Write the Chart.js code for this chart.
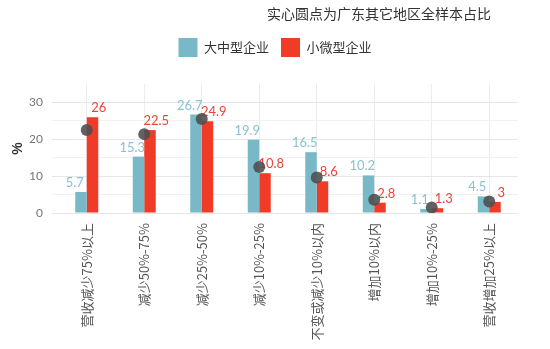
<!DOCTYPE html>
<html>
<head>
<meta charset="utf-8">
<script src="https://cdn.jsdelivr.net/npm/chart.js@4/dist/chart.umd.min.js"></script>
<style>
  body { margin: 0; background: #fff; }
  #wrap { position: relative; width: 550px; height: 349px; }
  #note {
    position: absolute; left: 267px; top: 3px;
    font: 14px "Noto Sans CJK SC", sans-serif; color: #333;
    white-space: nowrap;
  }
</style>
</head>
<body>
<div id="wrap">
  <canvas id="chart" width="550" height="349"></canvas>
  <div id="note">实心圆点为广东其它地区全样本占比</div>
</div>
<script>
// Data
const categories = ["营收减少75%以上", "减少50%-75%", "减少25%-50%", "减少10%-25%", "不变或减少10%以内", "增加10%以内", "增加10%-25%", "营收增加25%以上"];
const largeMid = [5.7, 15.3, 26.7, 19.9, 16.5, 10.2, 1.1, 4.5];
const smallMicro = [26, 22.5, 24.9, 10.8, 8.6, 2.8, 1.3, 3];
const guangdongOther = [22.5, 21.4, 25.5, 12.5, 9.6, 3.6, 1.5, 3.1];
const yTicks = [0, 10, 20, 30];

const blue = "#79b8c6";
const red = "#f03b27";

// Value labels above each bar, offset left/right of the category center
const barLabels = {
  id: "barLabels",
  afterDatasetDraw(chart, args) {
    if (args.index !== 0) return;
    const ctx = chart.ctx;
    ctx.save();
    ctx.font = '13px Lato, "Open Sans", sans-serif';
    ctx.textAlign = "center";
    ctx.textBaseline = "alphabetic";
    [[0, -12, "#8ac2cf"], [1, 12, "#e8463a"]].forEach(([di, dx, color]) => {
      const meta = chart.getDatasetMeta(di);
      const xScale = chart.scales.x;
      ctx.fillStyle = color;
      meta.data.forEach((bar, i) => {
        const cx = xScale.getPixelForValue(i);
        ctx.fillText(String(chart.data.datasets[di].data[i]), cx + dx, bar.y - 5);
      });
    });
    ctx.restore();
  }
};

// extra room under the legend, and centre it on the whole canvas
const legendGap = {
  id: "legendGap",
  beforeInit(chart) {
    const fit = chart.legend.fit;
    chart.legend.fit = function () {
      fit.bind(chart.legend)();
      this.height += 17;
    };
  },
  afterLayout(chart) {
    chart.legend.left += 16;
    chart.legend.right += 16;
  }
};

new Chart(document.getElementById("chart"), {
  type: "bar",
  data: {
    labels: categories,
    datasets: [
      { label: "大中型企业", data: largeMid, backgroundColor: blue, categoryPercentage: 0.4, barPercentage: 1.0 },
      { label: "小微型企业", data: smallMicro, backgroundColor: red, categoryPercentage: 0.4, barPercentage: 1.0 },
      { type: "line", label: "广东其它地区", data: guangdongOther, showLine: false, order: -1,
        pointRadius: 6, pointHoverRadius: 6, pointBackgroundColor: "rgba(80,80,80,0.9)", pointBorderWidth: 0 }
    ]
  },
  options: {
    responsive: false,
    animation: false,
    layout: { padding: { top: 26, left: 0, right: 32, bottom: 0 } },
    plugins: {
      tooltip: { enabled: false },
      legend: {
        position: "top",
        labels: {
          boxWidth: 19, boxHeight: 19, padding: 12, color: "#333",
          font: { family: '"Noto Sans CJK SC", sans-serif', size: 13 },
          filter: item => item.datasetIndex < 2
        }
      }
    },
    scales: {
      x: {
        afterFit: scale => { scale.height = 136; },
        grid: { offset: false, color: "#ececec", drawTicks: false },
        border: { display: false },
        ticks: {
          maxRotation: 90, minRotation: 90, padding: 10, color: "#555",
          font: { family: '"Noto Sans CJK SC", sans-serif', size: 13 }
        }
      },
      y: {
        min: 0, max: 35,
        afterFit: scale => { scale.width = 58; },
        border: { display: false },
        grid: {
          color: ctx => ctx.tick && ctx.tick.value === 35 ? "rgba(0,0,0,0)" : (ctx.tick && ctx.tick.value % 10 === 0 ? "#e6e6e6" : "#f1f1f1"),
          tickLength: 6
        },
        ticks: {
          stepSize: 5, padding: 9, color: "#777",
          font: { family: 'Lato, "Open Sans", sans-serif', size: 12 },
          callback: v => yTicks.includes(v) ? String(v) : ""
        },
        title: { display: true, text: "%", color: "#333", padding: { top: 10, bottom: 0 }, font: { size: 14, weight: "bold" } }
      }
    }
  },
  plugins: [barLabels, legendGap]
});
</script>
</body>
</html>
